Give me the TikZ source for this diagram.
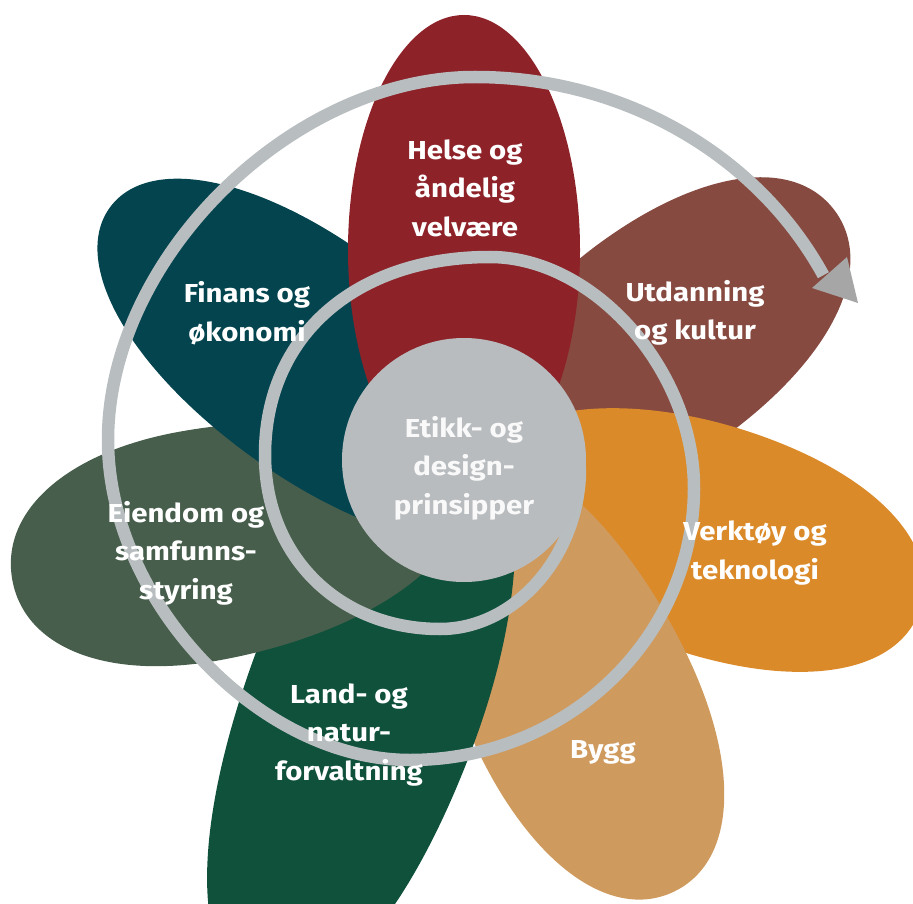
\documentclass[tikz,border=0pt]{standalone}
\usepackage{fontspec}
\setmainfont{Fira Sans}[FakeStretch=1.13]
\definecolor{cHelse}{HTML}{8D2229}
\definecolor{cUtd}{HTML}{874A40}
\definecolor{cVerk}{HTML}{DB8A2A}
\definecolor{cBygg}{HTML}{CF9A5E}
\definecolor{cLand}{HTML}{10513C}
\definecolor{cEien}{HTML}{465E4B}
\definecolor{cFin}{HTML}{03444F}
\definecolor{cCore}{HTML}{B8BCBE}
\definecolor{cRing}{HTML}{B8BDBF}
\definecolor{cArrow}{HTML}{A6A6A6}
% #1 colour, #2 #3 origin, #4 angle, #5 widest position, #6 half width,
% #7 outer semi length, #8 inner semi length, #9 outer bluntness
\newcommand\petalshape[9]{%
  \begin{scope}[shift={(#2,#3)},rotate=#4]
    \fill[#1] ({#5-#8},0) .. controls ({#5-#8},{0.5523*#6}) and ({#5-0.5523*#8},#6) .. (#5,#6)
      .. controls ({#5+#9*#7},#6) and ({#5+#7},{#9*#6}) .. ({#5+#7},0)
      .. controls ({#5+#7},{-#9*#6}) and ({#5+#9*#7},{-#6}) .. (#5,{-#6})
      .. controls ({#5-0.5523*#8},{-#6}) and ({#5-#8},{-0.5523*#6}) .. cycle;
  \end{scope}}
\begin{document}
\begin{tikzpicture}[x=1pt,y=-1pt,
  lbl/.style={text=white, font=\bfseries\fontsize{26}{38.5}\selectfont, align=center, inner sep=0pt},
  ringline/.style={draw=cRing, line width=12.5pt}]
\useasboundingbox (0,0) rectangle (913,904);
\begin{scope}
\clip (0,0) rectangle (913,904);
\petalshape{cUtd}{479}{478}{37}{230}{115}{215}{220}{0.6}
\petalshape{cVerk}{464}{460}{-18}{260}{115}{220}{240}{0.6}
\petalshape{cBygg}{464}{460}{-64}{270}{115}{210}{270}{0.6}
\petalshape{cLand}{453}{456}{-110}{257}{118}{313}{296}{0.6}
\petalshape{cEien}{458}{499}{190.3}{263}{116}{190}{263}{0.6}
\petalshape{cFin}{525}{519}{143}{269}{115}{250}{269}{0.58}
\petalshape{cHelse}{464}{460}{90}{210}{116}{235}{235}{0.55}
\end{scope}
% spiral: quarter curves between the extreme points of each turn
\coordinate (s0) at (580,468);
\coordinate (b1) at (440,629);
\coordinate (l1) at (265,455);
\coordinate (t1) at (490,257);
\coordinate (r2) at (694,488);
\coordinate (b2) at (410,760);
\coordinate (l2) at (108,440);
\coordinate (t2) at (475,77);
\draw[ringline] (s0) .. controls (580,555) and (515.6,629) .. (b1)
  .. controls (338.5,629) and (265,555.9) .. (l1)
  .. controls (265,336.2) and (355,257) .. (t1)
  .. controls (594,257) and (694,370.2) .. (r2)
  .. controls (694,638.2) and (566.9,760) .. (b2)
  .. controls (259,760) and (108,600) .. (l2)
  .. controls (108,258.5) and (291.5,77) .. (t2)
  arc[start angle=-90, end angle=-27, x radius=391, y radius=363] coordinate (spiralend);
\fill[cArrow] (847,257) -- (858,303) -- (812,288) -- cycle;
% centre
\node[circle, fill=cCore, minimum size=244pt, inner sep=0pt] (core) at (464,460) {};
\node[lbl, text=white!95!gray] (etikk) at (464,468) {Etikk- og\\design-\\prinsipper};
\node[lbl] (helse) at (465,188) {Helse og\\åndelig\\velvære};
\node[lbl] (utd) at (695,313) {Utdanning\\og kultur};
\node[lbl] (fin) at (247,313) {Finans og\\økonomi};
\node[lbl] (eien) at (186,553) {Eiendom og\\samfunns-\\styring};
\node[lbl] (verk) at (755,553) {Verktøy og\\teknologi};
\node[lbl] (land) at (349,735) {Land- og\\natur-\\forvaltning};
\node[lbl] (bygg) at (603,752) {Bygg};
\end{tikzpicture}
\end{document}
